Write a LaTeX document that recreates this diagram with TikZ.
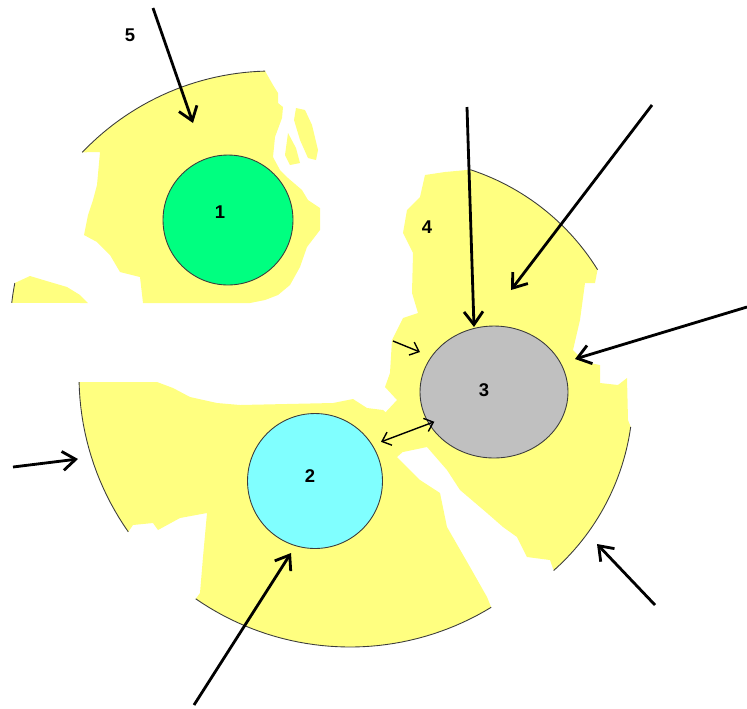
\documentclass[tikz,border=0pt]{standalone}
\usepackage{fontspec}
\setmainfont{Liberation Sans}
\usetikzlibrary{arrows.meta, shapes.geometric}
\definecolor{paleyellow}{RGB}{255,255,128}
\definecolor{springgreen}{RGB}{0,255,128}
\definecolor{palecyan}{RGB}{128,255,255}
\definecolor{silver}{RGB}{192,192,192}
\definecolor{rim}{RGB}{60,60,60}

\begin{document}
\begin{tikzpicture}[x=0.02cm, y=-0.02cm,
  piece/.style={fill=paleyellow},
  rimline/.style={draw=rim, line width=0.5pt},
  disc/.style={draw=rim, line width=0.5pt, circle, inner sep=0pt},
  num/.style={font=\bfseries\fontsize{10.5}{12}\selectfont},
  bigarrow/.style={line width=1.6pt, -{Straight Barb[length=2.6mm,width=3.8mm]}},
  smallarrow/.style={line width=0.8pt, -{Straight Barb[length=1.6mm,width=2.8mm]}}]
\useasboundingbox (0,0) rectangle (747,708);
% Piece A: upper left fragment
\fill[piece] plot[domain=186.6:191, samples=5] ({272+262*cos(\x)},{333+262*sin(\x)})
  -- (30,276) -- (50,282) -- (67,287) -- (80,295) -- (88,303) -- cycle;
\fill[piece] (100,152) -- plot[domain=223.6:268.5, samples=30] ({272+262*cos(\x)},{333+262*sin(\x)})
  -- (273,85) -- (278,93) -- (278,103) -- (283,107) -- (282,118) -- (275,137) -- (273,157)
  -- (280,170) -- (288,178) -- (302,190) -- (308,200) -- (320,208) -- (320,230) -- (307,247)
  -- (300,267) -- (290,285) -- (278,295) -- (265,300) -- (250,303) -- (143,303) -- (140,277)
  -- (120,272) -- (110,255) -- (97,242) -- (84,235) -- (88,215) -- (93,200) -- (97,185) -- cycle;
\fill[piece] (296,108) -- (305,110) -- (312,125) -- (318,150) -- (316,160) -- (308,158) -- (300,140) -- (294,120) -- cycle;
\fill[piece] (288,133) -- (296,148) -- (300,163) -- (290,165) -- (285,155) -- cycle;
\draw[rimline] plot[domain=186.6:191, samples=5] ({272+262*cos(\x)},{333+262*sin(\x)});
\draw[rimline] plot[domain=223.6:268.5, samples=30] ({272+262*cos(\x)},{333+262*sin(\x)});
% Piece B: lower left fragment
\fill[piece] (80,382) -- (157,382) -- (173,388) -- (190,397) -- (217,403) -- (240,405) -- (333,403)
  -- (353,399) -- (367,408) -- (383,410) -- (395,420) -- (410,425) -- (420,440) -- (405,450) -- (397,457)
  -- (420,480) -- (440,493) -- (447,527) -- (470,567) -- (487,597)
  -- plot[domain=58.6:124.7, samples=40] ({350+271*cos(\x)},{376+271*sin(\x)})
  -- (200,593) -- (203,557) -- (207,513) -- (180,518) -- (158,530) -- (153,523) -- (133,525)
  -- plot[domain=144.9:178.7, samples=20] ({350+271*cos(\x)},{376+271*sin(\x)}) -- cycle;
\draw[rimline] plot[domain=58.6:124.7, samples=40] ({350+271*cos(\x)},{376+271*sin(\x)});
\draw[rimline] plot[domain=144.9:178.7, samples=20] ({350+271*cos(\x)},{376+271*sin(\x)});
% Piece C: right fragment
\fill[piece] plot[domain=-71.9:-31.8, samples=30] ({397+236*cos(\x)},{394+236*sin(\x)})
  -- (595,283) -- (585,283) -- (580,320) -- (573,350) -- (585,362) -- (600,365) -- (600,383)
  -- (618,385) -- (627,378) -- (628,420)
  -- plot[domain=8:48.4, samples=30] ({397+236*cos(\x)},{394+236*sin(\x)})
  -- (550,560) -- (527,557) -- (517,537) -- (503,527) -- (487,513) -- (460,490) -- (447,470)
  -- (427,447) -- (403,452) -- (390,445) -- (383,440) -- (383,415) -- (397,400) -- (385,387)
  -- (390,373) -- (392,340) -- (403,318) -- (418,313) -- (412,293) -- (413,253) -- (403,233)
  -- (407,210) -- (420,197) -- (425,175) -- (445,172) -- cycle;
\draw[rimline] plot[domain=-71.9:-31.8, samples=30] ({397+236*cos(\x)},{394+236*sin(\x)});
\draw[rimline] plot[domain=8:48.4, samples=30] ({397+236*cos(\x)},{394+236*sin(\x)});
% cells
\node[disc, fill=springgreen, minimum size=2.6cm] (c1) at (228,220) {};
\node[disc, fill=palecyan, minimum size=2.7cm] (c2) at (315,481) {};
\node[draw=rim, line width=0.5pt, ellipse, inner sep=0pt, fill=silver,
  minimum width=2.96cm, minimum height=2.64cm] (c3) at (494,392) {};
\node[num] (n1) at (220,212) {1};
\node[num] (n2) at (310,476) {2};
\node[num] (n3) at (484,390) {3};
\node[num] (n4) at (427,227) {4};
\node[num] (n5) at (130,35) {5};
% arrows
\coordinate (t1) at (153,8);    \coordinate (h1) at (193,123);
\coordinate (t2) at (467,107);  \coordinate (h2) at (474,327);
\coordinate (t3) at (652,105);  \coordinate (h3) at (511,290);
\coordinate (t4) at (747,307);  \coordinate (h4) at (575,359);
\coordinate (t5) at (393,341);  \coordinate (h5) at (420,352);
\coordinate (t7) at (655,605);  \coordinate (h7) at (597,544);
\coordinate (t8) at (194,705);  \coordinate (h8) at (291,553);
\coordinate (t9) at (13,467);   \coordinate (h9) at (78,459);
\draw[bigarrow] (t1) -- (h1);
\draw[bigarrow] (t2) -- (h2);
\draw[bigarrow] (t3) -- (h3);
\draw[bigarrow] (t4) -- (h4);
\draw[smallarrow] (t5) -- (h5);
\draw[line width=0.8pt, {Straight Barb[length=1.6mm,width=2.8mm]}-{Straight Barb[length=1.6mm,width=2.8mm]},
  shorten <=1.8mm, shorten >=-1.2mm] (c2.32) -- (c3.206);
\draw[bigarrow] (t7) -- (h7);
\draw[bigarrow] (t8) -- (h8);
\draw[bigarrow] (t9) -- (h9);
\end{tikzpicture}
\end{document}
